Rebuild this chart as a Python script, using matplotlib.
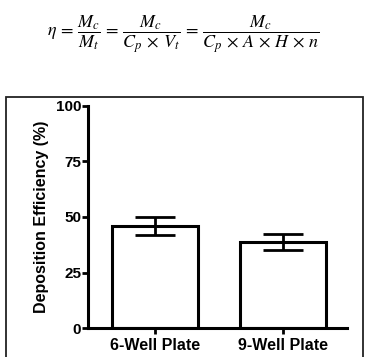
import matplotlib.pyplot as plt
from matplotlib.patches import Rectangle

plt.rcParams['font.family'] = ['Liberation Sans', 'DejaVu Sans']
plt.rcParams['mathtext.fontset'] = 'stix'

# data
categories = ['6-Well Plate', '9-Well Plate']
efficiency = [45.8, 38.6]
errors = [4.0, 3.6]

fig = plt.figure(figsize=(3.67, 3.57), dpi=100)

# equation on top
fig.text(0.50, 0.905,
         r'$\eta\,=\,\dfrac{M_c}{M_t}\,=\,\dfrac{M_c}{C_p\,\times\,V_t}\,=\,\dfrac{M_c}{C_p\,\times\,A\,\times\,H\,\times\,n}$',
         ha='center', va='center', fontsize=13)

# frame around the chart panel
fig.patches.append(Rectangle((6 / 367, -0.05), 357 / 367, 1.05 - 97 / 357,
                             transform=fig.transFigure, fill=False,
                             edgecolor='#222222', linewidth=1.3))

ax = fig.add_axes([88 / 367, 1 - 328 / 357, (347 - 88) / 367, (328 - 106) / 357])
x = range(len(categories))
ax.bar(x, efficiency, width=0.67, color='white', edgecolor='black', linewidth=2.2,
       yerr=errors, capsize=0, error_kw=dict(elinewidth=2.0, capthick=2.0), zorder=2)
# wide caps
for xi, m, e in zip(x, efficiency, errors):
    ax.hlines([m + e, m - e], xi - 0.155, xi + 0.155, color='black', linewidth=2.0, zorder=3)

ax.set_xlim(-0.52, 1.5)
ax.set_ylim(0, 100)
ax.set_yticks([0, 25, 50, 75, 100])
ax.set_xticks(list(x))
ax.set_xticklabels(categories, fontweight='bold', fontsize=11.5)
for lbl in ax.get_yticklabels():
    lbl.set_fontweight('bold')
    lbl.set_fontsize(11)
ax.set_ylabel('Deposition Efficiency (%)', fontweight='bold', fontsize=11.5, labelpad=5)

for s in ['top', 'right']:
    ax.spines[s].set_visible(False)
for s in ['left', 'bottom']:
    ax.spines[s].set_linewidth(2.2)
ax.tick_params(width=2.0, length=4)
ax.tick_params(axis='y', pad=1)
ax.tick_params(axis='x', pad=3)
ax.patch.set_alpha(0)

fig.savefig('out.png', dpi=100)
